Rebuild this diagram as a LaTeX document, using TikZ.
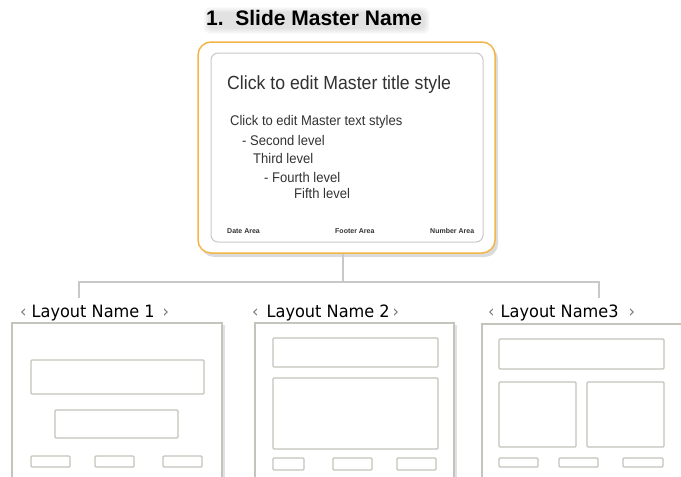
\documentclass[tikz,border=0pt]{standalone}
\usepackage{fontspec}
\setmainfont{Liberation Sans}
\newfontfamily\slidefont[FakeStretch=0.93]{Liberation Sans}
\newfontfamily\labelfont[FakeStretch=0.95]{DejaVu Sans}
\usetikzlibrary{shadows,backgrounds}

\definecolor{masterorange}{RGB}{242,182,72}
\definecolor{framegray}{RGB}{196,196,188}
\definecolor{linegray}{RGB}{200,200,200}
\definecolor{slidetext}{RGB}{50,50,50}
\definecolor{chevgray}{RGB}{120,120,120}

\begin{document}
\begin{tikzpicture}[x=1pt, y=-1pt,
  master/.style={draw=masterorange, line width=1.5pt, rounded corners=13pt, fill=white,
    minimum width=297pt, minimum height=211pt, inner sep=0pt,
    drop shadow={shadow xshift=3pt, shadow yshift=-4pt, fill=black!40, opacity=.35}},
  slide/.style={draw=linegray, line width=1pt, rounded corners=7pt,
    minimum width=272pt, minimum height=189pt, inner sep=0pt},
  frame/.style={draw=framegray, line width=1.3pt, fill=white, inner sep=0pt,
    minimum height=200pt,
    drop shadow={shadow xshift=3pt, shadow yshift=-2pt, fill=black!40, opacity=.3}},
  ph/.style={draw=framegray, line width=1.3pt, rounded corners=1pt},
  conn/.style={draw=linegray, line width=1.3pt},
  haze/.style={fill=black, opacity=.04, rounded corners=6pt},
  txt/.style={anchor=base west, inner sep=0pt, text=slidetext, font=\slidefont\fontsize{14}{16}\selectfont},
  foot/.style={anchor=base west, inner sep=0pt, text=slidetext, font=\fontsize{7}{8}\selectfont\bfseries},
  lab/.style={anchor=base west, inner sep=0pt, font=\labelfont\fontsize{17}{20}\selectfont}]
  \useasboundingbox (0,0) rectangle (681,477);
  \clip (0,0) rectangle (681,477);

  % heading, with its soft shadow
  \node[anchor=base west, inner sep=0pt, font=\fontsize{21}{25}\selectfont\bfseries]
    (head) at (206,25) {1.\ \ Slide Master Name};
  \begin{scope}[on background layer]
    \foreach \o in {0,2,4}
      \fill[haze] ([xshift=2pt-\o pt, yshift=-2pt+\o pt]head.north west)
        rectangle ([xshift=3pt+\o pt, yshift=-4pt-\o pt]head.south east);
  \end{scope}

  % tree lines
  \coordinate (hub) at (343,282);
  \coordinate (drop1) at (79,298);
  \coordinate (drop3) at (599,298);

  % master slide
  \node[master] (master) at (346.5,147.5) {};
  \node[slide] (slide) at (347,147.5) {};
  \draw[conn] (master.south -| hub) -- (hub);
  \draw[conn] (drop1) |- (hub) -| (drop3);

  \node[txt, font=\slidefont\fontsize{19}{22}\selectfont] (mtitle) at (227,89) {Click to edit Master title style};
  \node[txt] (lvl1) at (230,125) {Click to edit Master text styles};
  \node[txt] (lvl2) at (242,145) {- Second level};
  \node[txt] (lvl3) at (253,163) {Third level};
  \node[txt] (lvl4) at (264,182) {- Fourth level};
  \node[txt] (lvl5) at (294,198) {Fifth level};
  \node[foot] (date) at (227,233.5) {Date Area};
  \node[foot] (footer) at (335,233.5) {Footer Area};
  \node[foot] (number) at (430,233.5) {Number Area};

  % layout names
  \node[lab] (name1) at (20,317) {\textcolor{chevgray}{‹}\hspace{5pt}Layout Name 1\hspace{8pt}\textcolor{chevgray}{›}};
  \node[lab] (name2) at (252,317) {\textcolor{chevgray}{‹}\hspace{8pt}Layout Name 2\hspace{3pt}\textcolor{chevgray}{›}};
  \node[lab] (name3) at (488,317) {\textcolor{chevgray}{‹}\hspace{6pt}Layout Name3\hspace{10pt}\textcolor{chevgray}{›}};

  % layout 1
  \node[frame, minimum width=210pt] (layout1) at (117,423) {};
  \draw[ph] (31,360) rectangle (204,394);
  \draw[ph] (55,410) rectangle (178,438);
  \foreach \a/\b in {31/70, 95/134, 163/202}
    \draw[ph] (\a,456) rectangle (\b,467);

  % layout 2
  \node[frame, minimum width=199pt] (layout2) at (354.5,423) {};
  \draw[ph] (273,338) rectangle (438,367);
  \draw[ph] (273,378) rectangle (438,449);
  \foreach \a/\b in {273/304, 333/372, 397/436}
    \draw[ph] (\a,458) rectangle (\b,470);

  % layout 3
  \node[frame, minimum width=204pt] (layout3) at (584,424) {};
  \draw[ph] (499,339) rectangle (664,369);
  \draw[ph] (499,382) rectangle (576,447);
  \draw[ph] (587,382) rectangle (664,447);
  \foreach \a/\b in {499/538, 559/598, 623/663}
    \draw[ph] (\a,458) rectangle (\b,467);
\end{tikzpicture}
\end{document}
